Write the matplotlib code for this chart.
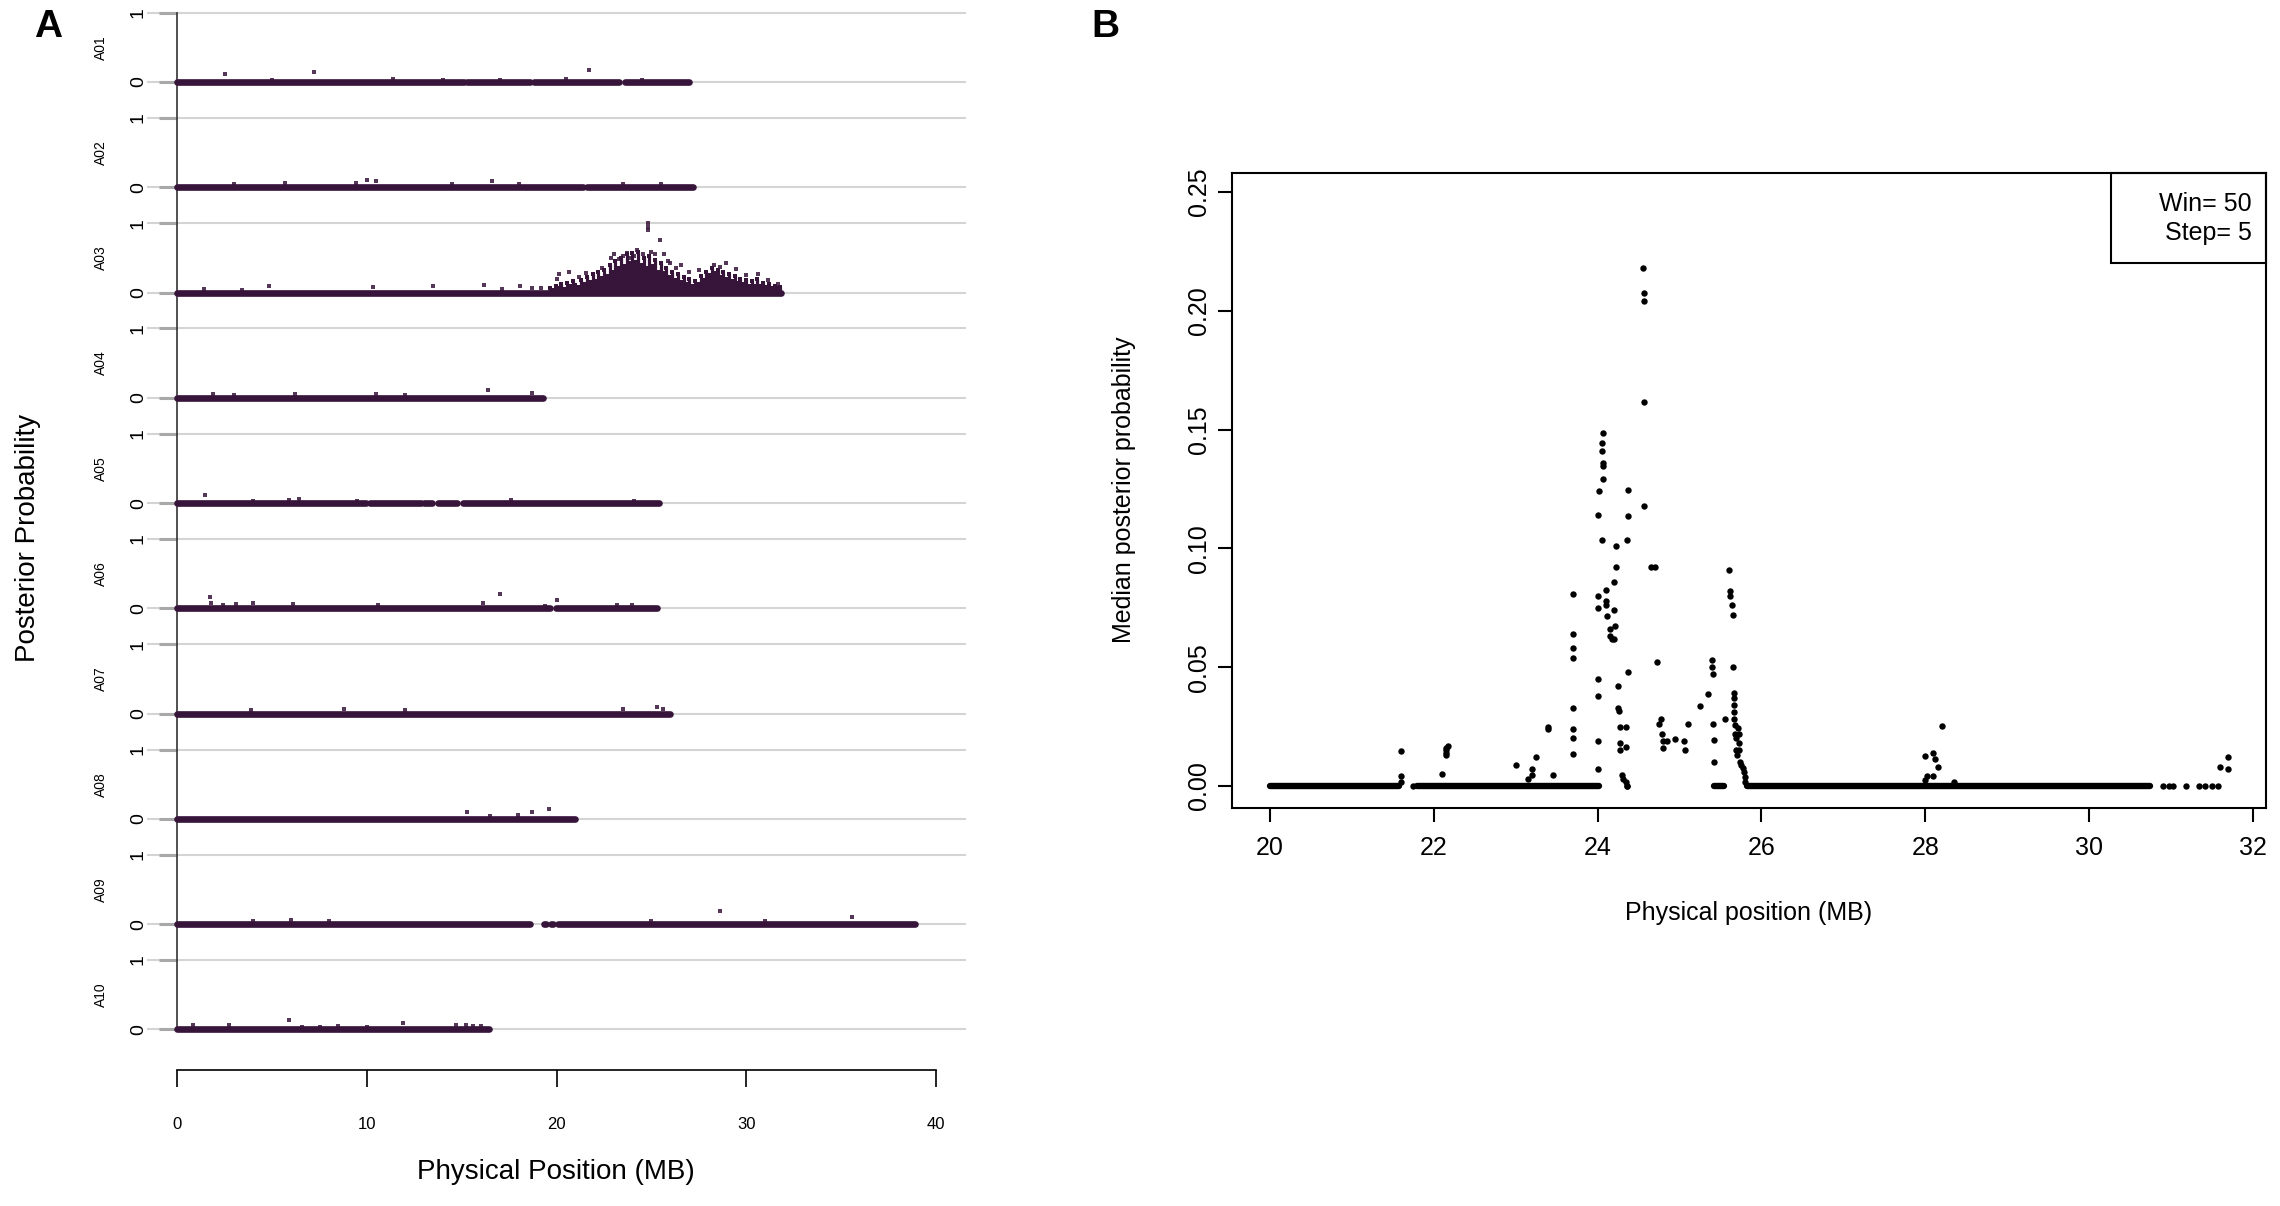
import matplotlib
matplotlib.use("Agg")
import matplotlib.pyplot as plt
from matplotlib.patches import Rectangle

plt.rcParams['font.family'] = ['Liberation Sans', 'DejaVu Sans']

# ---------------- Panel A data ----------------
chrom_names = ["A01", "A02", "A03", "A04", "A05", "A06", "A07", "A08", "A09", "A10"]
# dense runs of near-zero markers (start MB, end MB) per chromosome
chrom_segments = [
    [(0, 15.1), (15.3, 18.6), (18.8, 23.3), (23.6, 27.0)],
    [(0, 21.4), (21.6, 27.2)],
    [(0, 31.85)],
    [(0, 19.3)],
    [(0, 9.95), (10.15, 12.85), (13.0, 13.45), (13.75, 14.75), (15.05, 25.4)],
    [(0, 11.35), (11.5, 19.65), (19.95, 25.3)],
    [(0, 26.0)],
    [(0, 21.0)],
    [(0, 18.6), (19.35, 19.45), (19.7, 19.8), (20.1, 38.9)],
    [(0, 16.45)],
]
# isolated markers above baseline: chromosome index, position (MB), posterior
spike_chrom = [0, 0, 0, 0, 0, 0, 0, 0, 0,
               1, 1, 1, 1, 1, 1, 1, 1, 1, 1,
               2, 2, 2, 2, 2, 2, 2, 2, 2, 2,
               3, 3, 3, 3, 3, 3, 3,
               4, 4, 4, 4, 4, 4, 4,
               5, 5, 5, 5, 5, 5, 5, 5, 5, 5, 5, 5, 5,
               6, 6, 6, 6, 6, 6,
               7, 7, 7, 7, 7,
               8, 8, 8, 8, 8, 8, 8,
               9, 9, 9, 9, 9, 9, 9, 9, 9, 9, 9, 9]
spike_pos = [2.54, 7.2, 21.7, 11.4, 5.0, 14.0, 17.0, 20.5, 24.5,
             10.0, 10.5, 16.6, 5.7, 9.4, 3.0, 14.5, 18.0, 23.5, 25.5,
             1.4, 3.4, 4.84, 10.3, 13.5, 16.2, 17.1, 18.1, 18.7, 19.2,
             16.4, 18.7, 1.9, 6.2, 10.5, 12.0, 3.0,
             1.44, 4.0, 5.9, 6.4, 9.5, 17.6, 24.1,
             1.73, 1.8, 2.4, 3.1, 4.0, 6.1, 10.6, 16.1, 17.0, 19.4, 20.0, 23.2, 24.0,
             3.9, 8.8, 12.0, 23.5, 25.3, 25.6,
             15.3, 18.7, 19.6, 17.96, 16.5,
             28.6, 35.6, 25.0, 4.0, 6.0, 8.0, 31.0,
             5.9, 11.9, 0.8, 2.7, 6.6, 7.5, 8.5, 10.0, 14.7, 15.2, 15.6, 16.0]
spike_val = [0.11, 0.15, 0.17, 0.04, 0.03, 0.03, 0.03, 0.04, 0.03,
             0.10, 0.09, 0.09, 0.06, 0.06, 0.04, 0.05, 0.04, 0.04, 0.04,
             0.05, 0.04, 0.09, 0.08, 0.09, 0.11, 0.05, 0.09, 0.06, 0.07,
             0.11, 0.07, 0.05, 0.05, 0.05, 0.04, 0.04,
             0.12, 0.03, 0.04, 0.06, 0.03, 0.04, 0.03,
             0.17, 0.07, 0.05, 0.06, 0.08, 0.06, 0.05, 0.08, 0.20, 0.04, 0.12, 0.05, 0.05,
             0.05, 0.06, 0.05, 0.07, 0.09, 0.06,
             0.10, 0.10, 0.14, 0.06, 0.04,
             0.19, 0.10, 0.04, 0.05, 0.06, 0.04, 0.05,
             0.13, 0.10, 0.07, 0.06, 0.04, 0.04, 0.05, 0.04, 0.06, 0.06, 0.05, 0.05]
# A03 association cloud: dense columns (position, top of dense fill)
a03_col_pos = [19.65, 19.8, 19.95, 20.1, 20.25, 20.4, 20.55, 20.7, 20.85, 21.0,
               21.15, 21.3, 21.45, 21.6, 21.75, 21.9, 22.05, 22.2, 22.35, 22.5,
               22.65, 22.8, 22.95, 23.1, 23.25, 23.4, 23.55, 23.7, 23.85, 24.0,
               24.15, 24.3, 24.45, 24.6, 24.75, 24.9, 25.05, 25.2, 25.35, 25.5,
               25.65, 25.8, 25.95, 26.1, 26.25, 26.4, 26.55, 26.7, 26.85, 27.0,
               27.15, 27.3, 27.45, 27.6, 27.75, 27.9, 28.05, 28.2, 28.35, 28.5,
               28.65, 28.8, 28.95, 29.1, 29.25, 29.4, 29.55, 29.7, 29.85, 30.0,
               30.15, 30.3, 30.45, 30.6, 30.75, 30.9, 31.05, 31.2, 31.35, 31.5,
               31.65, 31.8]
a03_col_top = [0.06, 0.04, 0.10, 0.07, 0.12, 0.05, 0.14, 0.09, 0.16, 0.11,
               0.08, 0.18, 0.12, 0.22, 0.15, 0.26, 0.17, 0.30, 0.21, 0.33,
               0.24, 0.40, 0.30, 0.46, 0.35, 0.50, 0.38, 0.55, 0.42, 0.57,
               0.44, 0.58, 0.40, 0.50, 0.35, 0.52, 0.38, 0.47, 0.30, 0.42,
               0.28, 0.36, 0.22, 0.30, 0.18, 0.26, 0.15, 0.22, 0.12, 0.20,
               0.10, 0.16, 0.12, 0.24, 0.18, 0.30, 0.25, 0.36, 0.28, 0.33,
               0.22, 0.30, 0.20, 0.26, 0.16, 0.24, 0.14, 0.20, 0.12, 0.18,
               0.10, 0.16, 0.09, 0.20, 0.10, 0.14, 0.08, 0.12, 0.07, 0.10,
               0.06, 0.08]
# A03 sparse markers above the dense cloud
a03_pt_pos = [20.13, 20.66, 21.54, 20.0, 21.2, 22.4, 22.9, 23.03, 23.3, 23.74,
              23.9, 24.27, 24.1, 24.8, 24.8, 24.8, 25.46, 24.97, 25.68, 25.2,
              26.0, 26.56, 27.0, 27.52, 28.32, 28.6, 28.93, 29.46, 30.0, 30.61,
              31.13, 31.66, 26.3, 25.9, 24.55, 23.5]
a03_pt_val = [0.26, 0.29, 0.28, 0.20, 0.22, 0.36, 0.50, 0.56, 0.48, 0.57,
              0.50, 0.61, 0.52, 1.00, 0.95, 0.90, 0.75, 0.58, 0.56, 0.55,
              0.42, 0.39, 0.30, 0.33, 0.39, 0.37, 0.42, 0.34, 0.25, 0.27,
              0.18, 0.13, 0.35, 0.46, 0.55, 0.52]
a_xticks = [0, 10, 20, 30, 40]

# ---------------- Panel B data ----------------
b_zero_segments = [(20.0, 21.58), (21.8, 24.02), (25.42, 25.54), (25.82, 30.74)]
b_zero_points = [30.9, 30.97, 31.03, 31.18, 31.34, 31.42, 31.5, 31.57, 24.36, 21.75]
b_x = [21.6, 21.6, 21.6, 22.1, 22.15, 22.15, 22.15, 22.15, 22.17,
       23.0, 23.15, 23.2, 23.2, 23.25, 23.4, 23.4, 23.45,
       23.7, 23.7, 23.7, 23.7, 23.7, 23.7, 23.7, 23.7,
       24.0, 24.0, 24.0, 24.0, 24.0, 24.0, 24.0, 24.02,
       24.05, 24.05, 24.05, 24.06, 24.07, 24.07, 24.07,
       24.1, 24.1, 24.1, 24.12,
       24.15, 24.15, 24.17,
       24.2, 24.2, 24.21, 24.2, 24.22, 24.22,
       24.25, 24.25, 24.26, 24.27, 24.27, 24.27,
       24.3, 24.31,
       24.35, 24.35, 24.35, 24.36, 24.37, 24.36, 24.37, 24.37,
       24.55, 24.56, 24.57, 24.57, 24.57,
       24.65, 24.7, 24.72,
       24.75, 24.77, 24.78, 24.8, 24.8,
       24.85, 24.95, 25.05, 25.07, 25.1, 25.25, 25.35,
       25.4, 25.4, 25.41, 25.41, 25.42, 25.42,
       25.55,
       25.6, 25.61, 25.62, 25.64, 25.65,
       25.65, 25.66, 25.66, 25.66, 25.67, 25.67, 25.68, 25.68, 25.69, 25.69, 25.7,
       25.71, 25.72, 25.72, 25.73, 25.74,
       25.75, 25.77, 25.79, 25.8, 25.8,
       28.0, 28.02, 28.0, 28.1, 28.12, 28.1, 28.15, 28.2, 28.35,
       31.6, 31.7, 31.7]
b_y = [0.0146, 0.004, 0.0015, 0.005, 0.016, 0.015, 0.014, 0.013, 0.017,
       0.009, 0.003, 0.007, 0.0045, 0.012, 0.025, 0.024, 0.0045,
       0.081, 0.064, 0.058, 0.054, 0.033, 0.024, 0.020, 0.0136,
       0.007, 0.019, 0.038, 0.045, 0.075, 0.080, 0.114, 0.124,
       0.1035, 0.141, 0.1445, 0.1485, 0.136, 0.1345, 0.129,
       0.0825, 0.078, 0.076, 0.0717,
       0.066, 0.063, 0.062,
       0.062, 0.074, 0.0675, 0.0857, 0.092, 0.101,
       0.042, 0.033, 0.0317, 0.0248, 0.018, 0.0153,
       0.0045, 0.003,
       0.0248, 0.0166, 0.0015, 0.0, 0.048, 0.1035, 0.1137, 0.1245,
       0.218, 0.2074, 0.204, 0.1617, 0.118,
       0.092, 0.092, 0.052,
       0.026, 0.028, 0.022, 0.019, 0.016,
       0.019, 0.0196, 0.019, 0.0153, 0.026, 0.0336, 0.0388,
       0.053, 0.050, 0.047, 0.026, 0.0194, 0.010,
       0.028,
       0.0907, 0.082, 0.080, 0.076, 0.072,
       0.050, 0.039, 0.037, 0.034, 0.031, 0.028, 0.0256, 0.022, 0.020, 0.0153, 0.013,
       0.0243, 0.022, 0.018, 0.015, 0.0103,
       0.009, 0.0075, 0.006, 0.0037, 0.0015,
       0.0125, 0.004, 0.0024, 0.014, 0.0114, 0.004, 0.0078, 0.0254, 0.0015,
       0.008, 0.012, 0.007]
b_xticks = [20, 22, 24, 26, 28, 30, 32]
b_yticks = [0.00, 0.05, 0.10, 0.15, 0.20, 0.25]
b_legend = ["Win= 50", "Step= 5"]

# ---------------- Figure ----------------
W, H = 2280, 1206
fig = plt.figure(figsize=(W / 100, H / 100), dpi=100)

PURPLE = '#37143a'
GRID = '#d4d4d4'
row_step = 1.517

# ----- Panel A -----
axA = fig.add_axes([147 / W, 0.0919, (966 - 147) / W, 0.9063])
axA.set_xlim(-1.6, 41.6)
axA.set_ylim(-14.6, 1.15)
for s in ['top', 'right']:
    axA.spines[s].set_visible(False)

baselines = [-i * row_step for i in range(len(chrom_names))]
for i, name in enumerate(chrom_names):
    b = baselines[i]
    axA.axhline(b, color=GRID, lw=1.5, zorder=1)
    axA.axhline(b + 1, color=GRID, lw=1.5, zorder=1)
    for (s0, s1) in chrom_segments[i]:
        axA.plot([s0, s1], [b, b], color=PURPLE, lw=4.8, solid_capstyle='round', zorder=3)
    axA.text(-4.03, b + 0.5, name, rotation=90, ha='center', va='center',
             fontsize=10, clip_on=False)

# A03 dense cloud and sparse markers
b3 = baselines[2]
axA.vlines(a03_col_pos, b3, [b3 + v for v in a03_col_top], color=PURPLE, lw=2.3, zorder=3)
axA.plot(a03_col_pos, [b3 + v for v in a03_col_top], 's', color=PURPLE, ms=3.0,
         mew=0, zorder=3)
axA.plot(a03_pt_pos, [b3 + v for v in a03_pt_val], 's', color=PURPLE, ms=3.0,
         mew=0, zorder=3, alpha=0.85)

# spikes in every chromosome (small markers just above the baseline band)
sp_top = [baselines[c] + v for c, v in zip(spike_chrom, spike_val)]
axA.plot(spike_pos, sp_top, 's', color=PURPLE, ms=3.0, mew=0, zorder=3, alpha=0.85)

# left axis at x = 0
axA.spines['left'].set_position(('data', 0))
axA.spines['left'].set_bounds(baselines[-1], 1)
axA.spines['left'].set_color('#333333')
axA.spines['left'].set_linewidth(1.2)
ytick_pos, ytick_lab = [], []
for b in baselines:
    ytick_pos += [b, b + 1]
    ytick_lab += ['0', '1']
axA.set_yticks(ytick_pos)
axA.set_yticklabels(ytick_lab, rotation=90, va='center', fontsize=14)
axA.tick_params(axis='y', direction='out', length=13, width=2.2, color='#a8a8a8', pad=9)

# bottom axis
axA.spines['bottom'].set_position(('data', -14.236))
axA.spines['bottom'].set_bounds(0, 40)
axA.spines['bottom'].set_linewidth(1.2)
axA.set_xticks(a_xticks)
axA.set_xticklabels([str(t) for t in a_xticks], fontsize=12)
axA.tick_params(axis='x', direction='out', length=12, width=1.2, pad=22)

fig.text(27.6 / W, 1 - 538 / H, "Posterior Probability", rotation=90,
         ha='center', va='center', fontsize=20)
fig.text(556 / W, 1 - 1172 / H, "Physical Position (MB)", ha='center', va='center',
         fontsize=20)
fig.text(48 / W, 1 - 27 / H, "A", ha='center', va='center', fontsize=28, fontweight='bold')
fig.text(1105 / W, 1 - 27 / H, "B", ha='center', va='center', fontsize=28, fontweight='bold')

# ----- Panel B -----
axB = fig.add_axes([1232 / W, 1 - 808 / H, 1034 / W, 635 / H])
axB.set_xlim(19.536, 32.16)
axB.set_ylim(-0.00926, 0.258)
for sp in axB.spines.values():
    sp.set_linewidth(1.5)
for (s0, s1) in b_zero_segments:
    axB.plot([s0, s1], [0, 0], color='black', lw=4.6, solid_capstyle='round', zorder=3)
axB.plot(b_zero_points, [0] * len(b_zero_points), 'o', color='black', ms=4.6, mew=0)
axB.plot(b_x, b_y, 'o', color='black', ms=4.6, mew=0, zorder=3)
axB.set_xticks(b_xticks)
axB.set_xticklabels([str(t) for t in b_xticks], fontsize=18)
axB.set_yticks(b_yticks)
axB.set_yticklabels(["%.2f" % t for t in b_yticks], rotation=90, va='center', fontsize=18)
axB.tick_params(axis='x', direction='out', length=10, width=1.5, pad=10)
axB.tick_params(axis='y', direction='out', length=10, width=1.5, pad=5)

axB.add_patch(Rectangle((0.85, 0.858), 0.15, 0.142, transform=axB.transAxes,
                        fill=False, lw=1.5, edgecolor='black', clip_on=False))
axB.text(0.9865, 0.951, b_legend[0], transform=axB.transAxes, ha='right', va='center',
         fontsize=18)
axB.text(0.9865, 0.9055, b_legend[1], transform=axB.transAxes, ha='right', va='center',
         fontsize=18)

fig.text(1124 / W, 1 - 490 / H, "Median posterior probability", rotation=90,
         ha='center', va='center', fontsize=18)
fig.text(1749 / W, 1 - 913 / H, "Physical position (MB)", ha='center', va='center',
         fontsize=18)

fig.savefig("out.png", dpi=100)
